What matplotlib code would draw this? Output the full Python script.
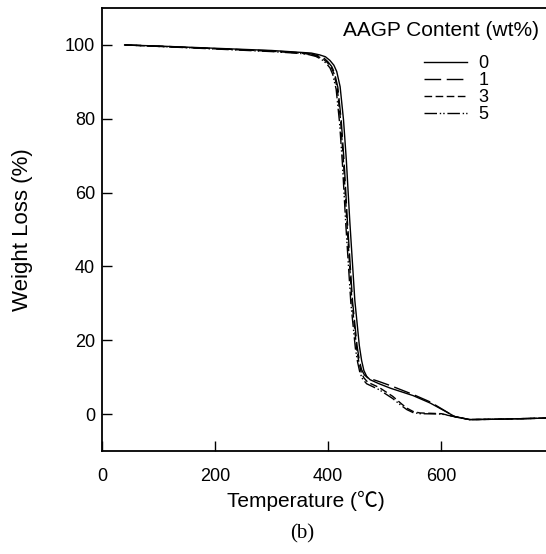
import numpy as np
import matplotlib
matplotlib.use("Agg")
import matplotlib.pyplot as plt

plt.rcParams['font.family'] = ['Liberation Sans', 'DejaVu Sans']

# Nhiet do (C) va khoi luong con lai (%) cho tung mau
temp_0 = [40, 100, 200, 300, 350, 370, 385, 395, 403, 410, 415, 421, 427, 432, 438, 447, 455, 459, 463, 468, 474, 490, 510, 530, 550, 580, 610, 625, 650, 700, 785]
loss_0 = [100, 99.7, 99.1, 98.5, 98.0, 97.8, 97.3, 96.8, 95.8, 94.5, 92.8, 88.7, 79.7, 68.8, 52.5, 30.8, 18.5, 14.5, 11.8, 10.2, 9.3, 8.2, 7.0, 6.0, 5.0, 3.0, 0.5, -0.8, -1.5, -1.4, -1.1]

temp_1 = [40, 100, 200, 300, 350, 368, 382, 392, 399, 406, 411, 417, 423, 428, 434, 443, 451, 455, 459, 464, 470, 490, 510, 530, 550, 580, 605, 622, 650, 700, 785]
loss_1 = [100, 99.7, 99.0, 98.4, 97.9, 97.6, 97.1, 96.5, 95.5, 94.2, 92.5, 88.5, 79.5, 68.5, 52.0, 30.5, 18.5, 14.5, 12.0, 10.6, 9.8, 8.8, 7.7, 6.5, 5.3, 3.3, 1.0, -0.6, -1.5, -1.4, -1.1]

temp_3 = [40, 100, 200, 300, 350, 367, 380, 390, 398, 405, 410, 416, 422, 427, 433, 442, 450, 454, 458, 463, 470, 490, 514, 530, 539, 550, 562, 600, 620, 650, 700, 785]
loss_3 = [100, 99.6, 99.0, 98.3, 97.8, 97.5, 97.0, 96.3, 95.3, 94.0, 92.3, 88.2, 79.2, 68.2, 51.8, 30.3, 18.0, 14.2, 11.5, 9.8, 8.6, 7.2, 4.8, 2.7, 1.6, 0.7, 0.3, 0.1, -0.6, -1.5, -1.4, -1.1]

temp_5 = [40, 100, 200, 300, 350, 365, 378, 388, 396, 403, 408, 414, 420, 425, 431, 440, 448, 452, 456, 461, 468, 490, 514, 530, 539, 550, 562, 600, 620, 650, 700, 785]
loss_5 = [100, 99.6, 98.9, 98.2, 97.7, 97.4, 96.9, 96.1, 95.1, 93.8, 92.0, 88.0, 79.0, 68.0, 51.5, 30.0, 17.8, 14.0, 11.2, 9.4, 8.2, 6.6, 4.2, 2.2, 1.2, 0.4, 0.1, 0.0, -0.6, -1.5, -1.4, -1.1]

labels = ['0', '1', '3', '5']
x_ticks = [0, 200, 400, 600]
y_ticks = [0, 20, 40, 60, 80, 100]

fig = plt.figure(figsize=(5.46, 5.54), dpi=100)
ax = fig.add_axes([0.1868, 0.186, 0.8132, 0.7995])

ax.plot(temp_0, loss_0, color='black', lw=1.0, ls='-', label=labels[0])
ax.plot(temp_1, loss_1, color='black', lw=1.0, ls=(0, (12, 4)), label=labels[1])
ax.plot(temp_3, loss_3, color='black', lw=1.0, ls=(0, (5.5, 2.5)), label=labels[2])
ax.plot(temp_5, loss_5, color='black', lw=1.0, ls=(0, (9, 2, 1, 1.5, 1, 2)), label=labels[3])

ax.set_xlim(0, 785)
ax.set_ylim(-10, 110)
ax.set_xticks(x_ticks)
ax.set_yticks(y_ticks)
ax.tick_params(direction='in', length=7, width=1.0, labelsize=13, pad=12)
ax.tick_params(axis='y', pad=5)
ax.spines['right'].set_visible(False)
for s in ['left', 'bottom', 'top']:
    ax.spines[s].set_linewidth(1.3)

ax.set_xlabel('Temperature (\u2103)', fontsize=15,
              family=['Liberation Sans', 'Noto Sans CJK KR'])
ax.xaxis.set_label_coords(0.46, -0.09)
ax.set_ylabel('Weight Loss (%)', fontsize=16)
ax.yaxis.set_label_coords(-0.155, 0.5)

ax.text(0.985, 0.95, 'AAGP Content (wt%)', transform=ax.transAxes,
        fontsize=15, ha='right', va='center')
leg = ax.legend(loc='upper right', frameon=False, fontsize=13,
                handlelength=2.4, handletextpad=0.6, labelspacing=0.0,
                bbox_to_anchor=(0.87, 0.894), borderaxespad=0.0,
                borderpad=0.0)

fig.text(0.553, 0.036, '(b)', fontsize=15, family='Liberation Serif',
         ha='center', va='center')

fig.savefig('out.png', dpi=100)
